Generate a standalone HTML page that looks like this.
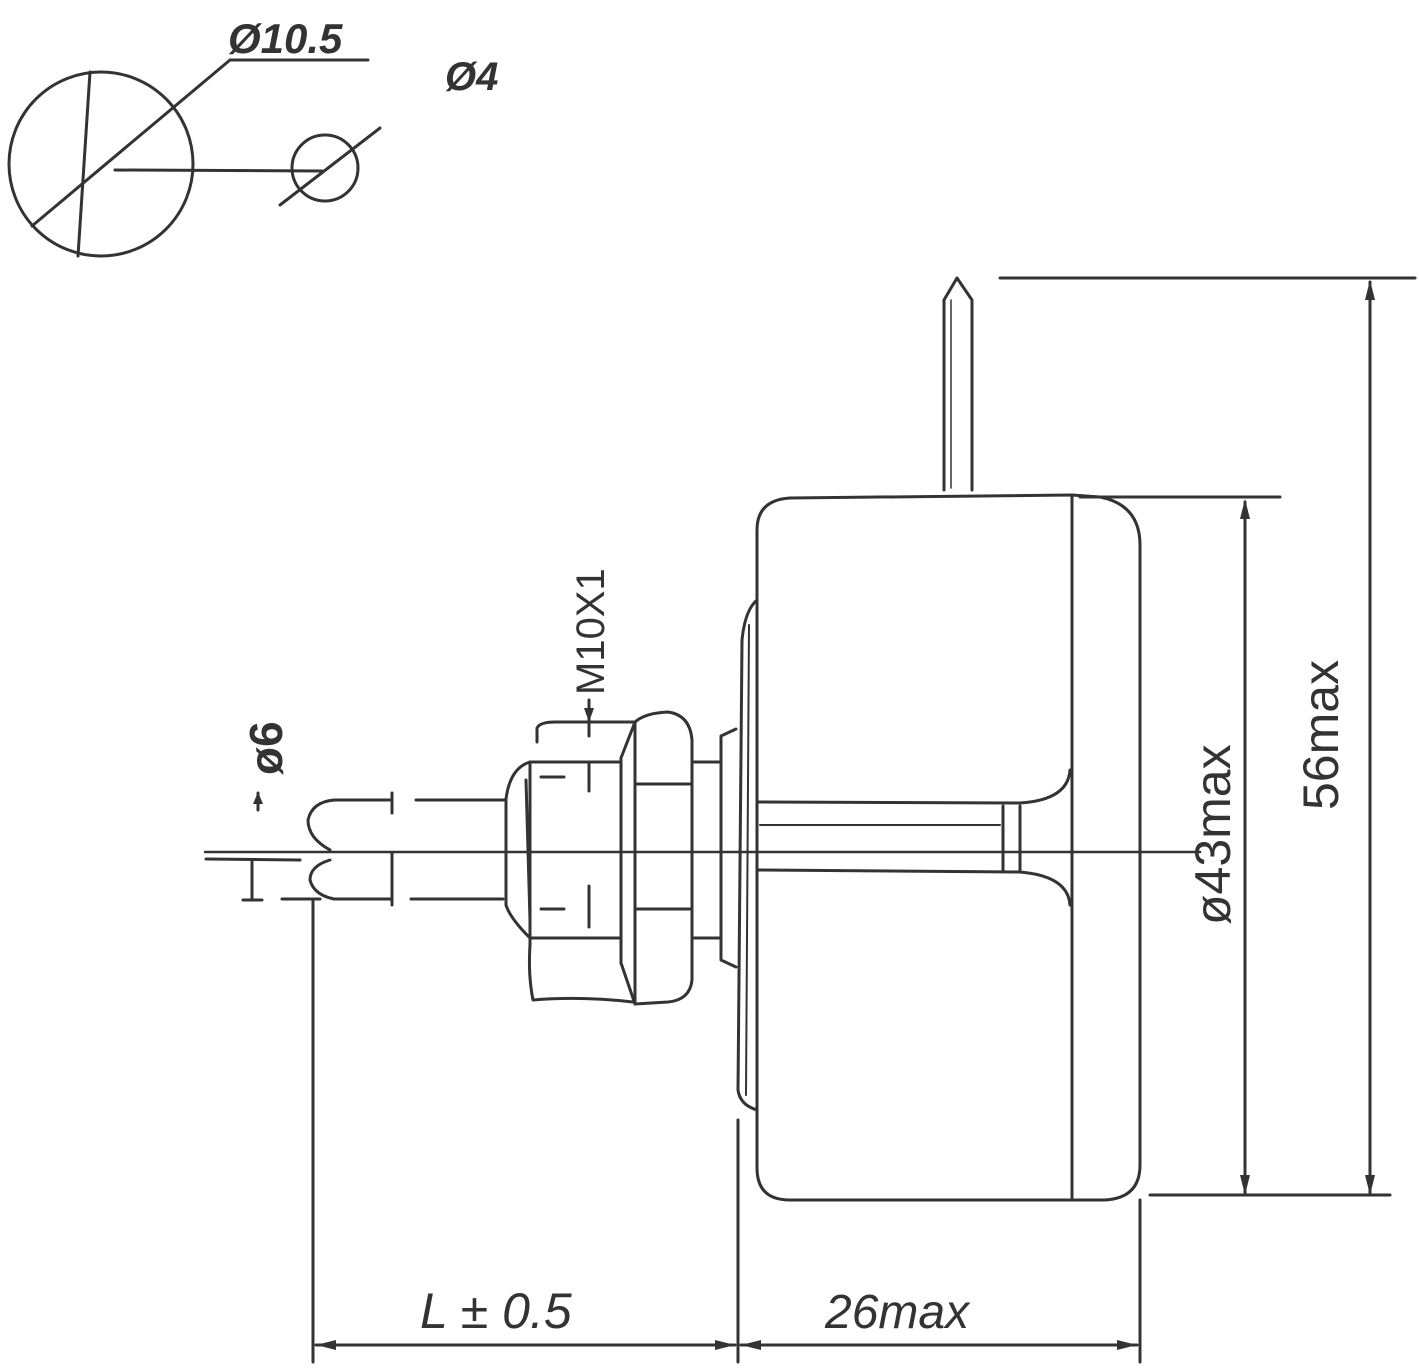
<!DOCTYPE html>
<html><head><meta charset="utf-8"><style>
html,body{margin:0;padding:0;background:#fff;}
svg{display:block;}
text{font-family:"Liberation Sans",sans-serif;fill:#333;}
</style></head><body>
<svg width="1419" height="1369" viewBox="0 0 1419 1369" xmlns="http://www.w3.org/2000/svg">
<g fill="none" stroke="#333" stroke-width="3" stroke-linecap="round" stroke-linejoin="round">
<!-- top-left views -->
<circle cx="101" cy="164" r="92"/>
<line x1="90" y1="72" x2="78" y2="256"/>
<line x1="32" y1="226" x2="230" y2="60"/>
<line x1="230" y1="60" x2="368" y2="60"/>
<line x1="115" y1="170" x2="322" y2="171"/>
<circle cx="325" cy="168" r="33"/>
<line x1="280" y1="205" x2="380" y2="128"/>
<!-- pin -->
<path d="M944 490 V300 L957 278 L972 300 V490"/>
<line x1="951" y1="300" x2="951" y2="488" stroke-width="1.5"/>
<!-- body -->
<path d="M757 530 Q757 500 790 498 L1072 495 L1100 497 Q1140 505 1140 545 L1140 1165 Q1140 1198 1105 1200 L790 1200 Q757 1200 757 1168 Z"/>
<line x1="1072" y1="495" x2="1072" y2="1200"/>
<path d="M757 802 L1020 803 Q1068 800 1070 770"/>
<path d="M757 870 L1020 872 Q1068 876 1070 905"/>
<line x1="1003" y1="806" x2="1003" y2="870"/>
<line x1="1020" y1="806" x2="1020" y2="870"/>
<!-- flange -->
<path d="M757 600 Q745 610 742 640 L738 1090 Q740 1105 757 1110"/>
<line x1="749" y1="625" x2="746" y2="1095" stroke-width="2"/>
<!-- washer -->
<path d="M736 729 L721 736 L721 960 L736 967"/>
<line x1="694" y1="762" x2="721" y2="762"/>
<line x1="694" y1="938" x2="721" y2="938"/>
<!-- nut -->
<path d="M635 722 Q645 713 668 712 Q690 715 692 740 L692 980 Q690 1000 668 1002 L635 1004 Z"/>
<line x1="635" y1="784" x2="690" y2="784"/>
<line x1="635" y1="909" x2="690" y2="909"/>
<!-- threaded bushing -->
<line x1="621" y1="758" x2="621" y2="963"/>
<line x1="621" y1="758" x2="635" y2="722"/>
<line x1="621" y1="963" x2="635" y2="1004"/>
<path d="M530 762 H621 M530 938 H621"/>
<path d="M530 945 Q528 975 533 1000 Q580 996 633 1002"/>
<line x1="541" y1="777" x2="564" y2="777"/>
<line x1="541" y1="909" x2="564" y2="909"/>
<line x1="589" y1="762" x2="589" y2="791"/>
<line x1="589" y1="886" x2="589" y2="927"/>
<!-- front collar -->
<path d="M530 762 Q510 768 506 799 L506 905 Q510 918 530 938"/>
<line x1="526" y1="780" x2="530" y2="920"/>
<line x1="530" y1="762" x2="530" y2="945"/>
<!-- shaft -->
<line x1="416" y1="800" x2="506" y2="800"/>
<line x1="411" y1="899" x2="503" y2="899"/>
<line x1="334" y1="800" x2="392" y2="800"/>
<line x1="392" y1="793" x2="392" y2="813"/>
<line x1="392" y1="853" x2="392" y2="905"/>
<line x1="334" y1="899" x2="392" y2="899"/>
<path d="M334 800 Q312 802 308 820 Q308 838 330 850"/>
<path d="M330 860 Q310 866 310 880 Q314 895 334 899"/>
<!-- center line -->
<line x1="205" y1="852" x2="1200" y2="852" stroke-width="2.5"/>
<line x1="760" y1="825" x2="1000" y2="825" stroke-width="2"/>
<!-- phi6 marks -->
<line x1="206" y1="859" x2="300" y2="860"/>
<line x1="258" y1="793" x2="258" y2="810"/>
<line x1="252" y1="862" x2="252" y2="900"/>
<line x1="243" y1="900" x2="262" y2="900"/>
<line x1="282" y1="899" x2="320" y2="899"/>
<!-- M10 bracket -->
<path d="M537 742 V728 Q540 722 555 722 H633"/>
<line x1="589" y1="700" x2="589" y2="736"/>
<!-- dimension lines -->
<line x1="1000" y1="278" x2="1415" y2="278"/>
<line x1="1370" y1="282" x2="1370" y2="1195"/>
<line x1="1150" y1="1195" x2="1390" y2="1195"/>
<line x1="1080" y1="497" x2="1280" y2="497"/>
<line x1="1245" y1="502" x2="1245" y2="1195"/>
<line x1="313" y1="899" x2="313" y2="1362"/>
<line x1="738" y1="1120" x2="738" y2="1362"/>
<line x1="1140" y1="1200" x2="1140" y2="1362"/>
<line x1="316" y1="1345" x2="735" y2="1345"/>
<line x1="741" y1="1345" x2="1137" y2="1345"/>
</g>
<g fill="#333">
<polygon points="1370,280 1365,300 1375,300"/>
<polygon points="1370,1195 1365,1175 1375,1175"/>
<polygon points="1245,499 1240,519 1250,519"/>
<polygon points="1245,1195 1240,1175 1250,1175"/>
<polygon points="316,1345 336,1340 336,1350"/>
<polygon points="735,1345 715,1340 715,1350"/>
<polygon points="741,1345 761,1340 761,1350"/>
<polygon points="1137,1345 1117,1340 1117,1350"/>
<polygon points="589,722 584,708 594,708"/>
<polygon points="258,792 253,804 263,804"/>
</g>
<text x="228" y="53" font-size="42" font-style="italic" font-weight="bold">Ø10.5</text>
<text x="445" y="90" font-size="40" font-style="italic" font-weight="bold">Ø4</text>
<text x="420" y="1328" font-size="50" font-style="italic">L ± 0.5</text>
<text x="825" y="1328" font-size="48" font-style="italic">26max</text>
<text transform="translate(1338,810) rotate(-90)" font-size="50">56max</text>
<text transform="translate(1230,925) rotate(-90)" font-size="50">ø43max</text>
<text transform="translate(604,695) rotate(-90)" font-size="40">M10X1</text>
<text transform="translate(282,775) rotate(-90)" font-size="46" font-weight="bold">ø6</text>
</svg>
</body></html>
